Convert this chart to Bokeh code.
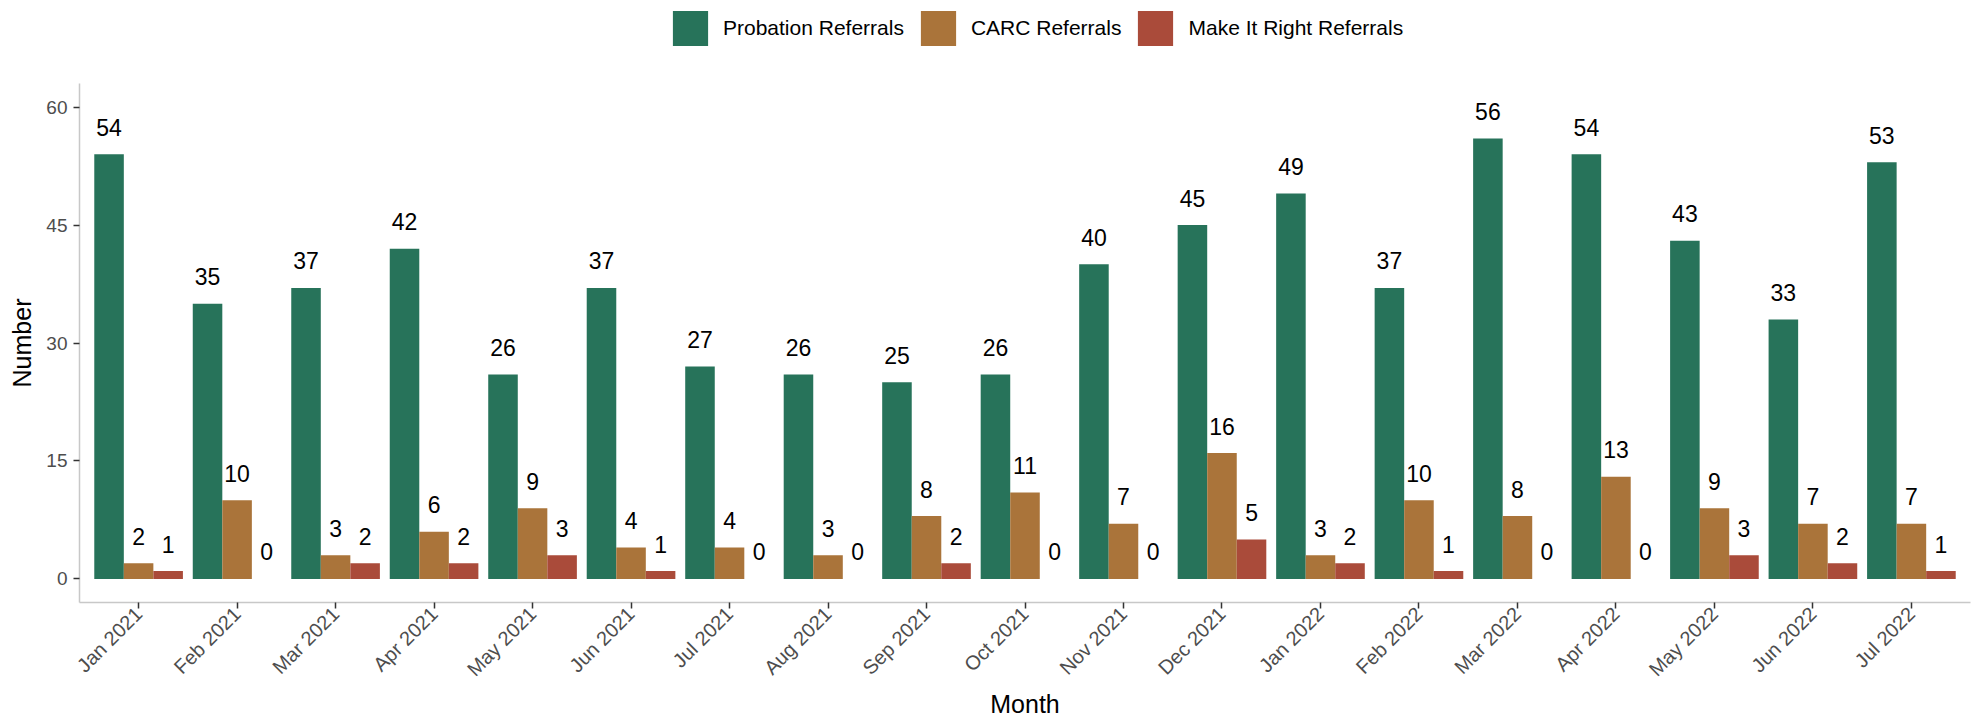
from bokeh.plotting import figure
from bokeh.layouts import column
from bokeh.models import (ColumnDataSource, FactorRange, Range1d, FixedTicker,
                          Legend, LegendItem)
from bokeh.transform import dodge
from bokeh.core.properties import value
from bokeh.embed import file_html
from bokeh.resources import INLINE
import math

months = ["Jan 2021", "Feb 2021", "Mar 2021", "Apr 2021", "May 2021", "Jun 2021",
          "Jul 2021", "Aug 2021", "Sep 2021", "Oct 2021", "Nov 2021", "Dec 2021",
          "Jan 2022", "Feb 2022", "Mar 2022", "Apr 2022", "May 2022", "Jun 2022",
          "Jul 2022"]
probation = [54, 35, 37, 42, 26, 37, 27, 26, 25, 26, 40, 45, 49, 37, 56, 54, 43, 33, 53]
carc = [2, 10, 3, 6, 9, 4, 4, 3, 8, 11, 7, 16, 3, 10, 8, 13, 9, 7, 7]
make_it_right = [1, 0, 2, 2, 3, 1, 0, 0, 2, 0, 0, 5, 2, 1, 0, 0, 3, 2, 1]
series_names = ["Probation Referrals", "CARC Referrals", "Make It Right Referrals"]
series_colors = ["#27735A", "#AA743A", "#AA4B3A"]
y_ticks = [0, 15, 30, 45, 60]

FONT = "Liberation Sans"
W = 1972
LEG_H = 83
TOTAL_H = 721

src = ColumnDataSource(dict(
    month=months,
    probation=probation, carc=carc, mir=make_it_right,
    probation_t=[str(v) for v in probation],
    carc_t=[str(v) for v in carc],
    mir_t=[str(v) for v in make_it_right],
))
cols = ["probation", "carc", "mir"]
offsets = [-0.3, 0.0, 0.3]

# ---- legend strip (separate figure so the legend is never clipped) ----
# its proxy bars have zero size and lie outside its y range: only the legend shows
lf = figure(width=W, height=LEG_H, output_backend="svg", toolbar_location=None,
            x_range=FactorRange(*months), y_range=Range1d(1000, 1100),
            x_axis_location=None, y_axis_location=None,
            min_border=0, outline_line_color=None)
lf.grid.visible = False
items = []
for col, name, color in zip(cols, series_names, series_colors):
    r = lf.vbar(x="month", top=col, bottom=col, width=0, source=src,
                fill_color=color, line_color=None)
    items.append(LegendItem(label=name, renderers=[r]))
legend = Legend(items=items, orientation="horizontal", location=(589, 33),
                glyph_width=44, glyph_height=44, label_standoff=11, spacing=12,
                padding=0, margin=0, border_line_color=None,
                background_fill_alpha=0,
                label_text_font=FONT, label_text_font_size="21px",
                label_text_color="black")
lf.add_layout(legend, "center")

# ---- main chart ----
p = figure(width=W, height=TOTAL_H - LEG_H, output_backend="svg", toolbar_location=None,
           x_range=FactorRange(*months, range_padding=0.1, range_padding_units="absolute"),
           y_range=Range1d(-3, 63),
           min_border_left=79, min_border_right=2, min_border_top=0, min_border_bottom=112)
p.outline_line_color = None
p.xgrid.grid_line_color = None
p.ygrid.grid_line_color = None

for col, off, color in zip(cols, offsets, series_colors):
    p.vbar(x=dodge("month", off, range=p.x_range), top=col, bottom=0, width=0.3,
           source=src, fill_color=color, line_color=None)
    p.text(x=dodge("month", off, range=p.x_range), y=col, text=col + "_t", source=src,
           text_font=value(FONT), text_font_size="23px", text_color="black",
           text_align="center", text_baseline="alphabetic", y_offset=-27)

xax = p.xaxis[0]
yax = p.yaxis[0]
yax.ticker = FixedTicker(ticks=y_ticks)
yax.axis_label = "Number"
xax.axis_label = "Month"
for ax in (xax, yax):
    ax.axis_line_color = "#c8c8c8"
    ax.axis_line_width = 1.5
    ax.major_tick_line_color = "#333333"
    ax.major_tick_line_width = 1.5
    ax.major_tick_out = 6
    ax.major_tick_in = 0
    ax.minor_tick_line_color = None
    ax.major_label_text_font = FONT
    ax.major_label_text_color = "#4d4d4d"
    ax.axis_label_text_font = FONT
    ax.axis_label_text_font_size = "25px"
    ax.axis_label_text_font_style = "normal"
    ax.axis_label_text_color = "black"
    ax.axis_label_text_line_height = 1.0
    ax.major_label_text_line_height = 1.0
yax.major_label_text_font_size = "19px"
yax.major_label_standoff = 6
yax.axis_label_standoff = 7
xax.major_label_text_font_size = "20px"
xax.major_label_orientation = math.pi / 4
xax.major_label_standoff = 2
xax.axis_label_standoff = -1

layout = column(lf, p, spacing=0)
open("out.html", "w").write(file_html(layout, INLINE))
